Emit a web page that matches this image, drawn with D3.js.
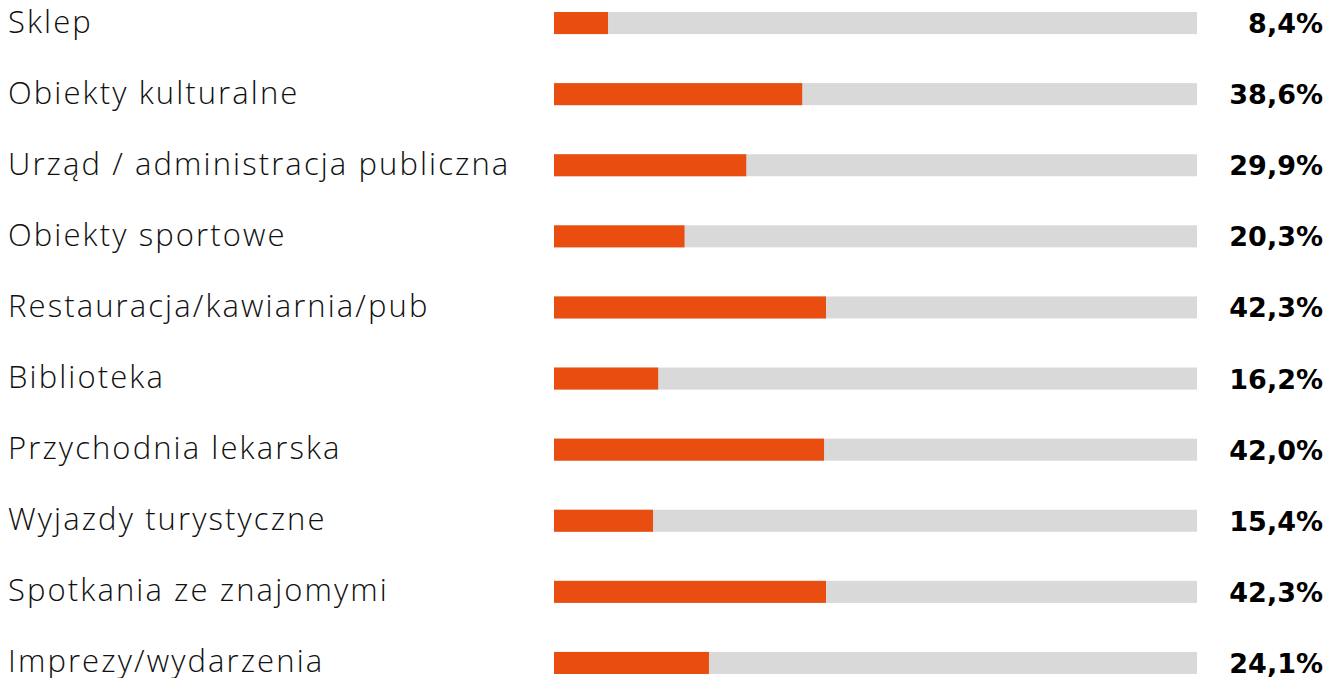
<!DOCTYPE html>
<html>
<head>
<meta charset="utf-8">
<script src="https://cdn.jsdelivr.net/npm/d3@7/dist/d3.min.js"></script>
<style>
  html, body { margin: 0; padding: 0; background: #ffffff; }
  svg { display: block; }
</style>
</head>
<body>
<svg id="chart" width="1341" height="678"></svg>
<script>
// Share of respondents per place / activity (percent)
const categories = [
  "Sklep",
  "Obiekty kulturalne",
  "Urząd / administracja publiczna",
  "Obiekty sportowe",
  "Restauracja/kawiarnia/pub",
  "Biblioteka",
  "Przychodnia lekarska",
  "Wyjazdy turystyczne",
  "Spotkania ze znajomymi",
  "Imprezy/wydarzenia"
];
const values = [8.4, 38.6, 29.9, 20.3, 42.3, 16.2, 42.0, 15.4, 42.3, 24.1];
const valueLabels = ["8,4%", "38,6%", "29,9%", "20,3%", "42,3%", "16,2%", "42,0%", "15,4%", "42,3%", "24,1%"];

const svg = d3.select("#chart");

const trackLeft = 554, trackRight = 1197;
const x = d3.scaleLinear().domain([0, 100]).range([trackLeft, trackRight]);

const y = d3.scaleBand()
  .domain(categories)
  .range([-12.5, 698.5])
  .paddingInner(0.69)
  .paddingOuter(0.345);

const bw = y.bandwidth();

const rows = svg.selectAll("g.row")
  .data(categories.map((c, i) => ({ c, v: values[i], t: valueLabels[i] })))
  .join("g")
  .attr("class", "row");

// grey track
rows.append("rect")
  .attr("x", x(0))
  .attr("y", d => y(d.c))
  .attr("width", x(100) - x(0))
  .attr("height", bw)
  .attr("fill", "#d9d9d9");

// value bar
rows.append("rect")
  .attr("x", x(0))
  .attr("y", d => y(d.c))
  .attr("width", d => x(d.v) - x(0))
  .attr("height", bw)
  .attr("fill", "#e94e10");

// category label
rows.append("text")
  .attr("x", 8)
  .attr("y", d => y(d.c) + bw / 2 + 9.5)
  .attr("font-family", "'Open Sans', sans-serif")
  .attr("font-size", 31)
  .attr("font-weight", 300)
  .attr("letter-spacing", 2.1)
  .attr("fill", "#111111")
  .text(d => d.c);

// value label
rows.append("text")
  .attr("x", 1323)
  .attr("y", d => y(d.c) + bw / 2 + 10)
  .attr("text-anchor", "end")
  .attr("font-family", "'DejaVu Sans', sans-serif")
  .attr("font-size", 27)
  .attr("font-weight", 700)
  .attr("fill", "#000000")
  .text(d => d.t);
</script>
</body>
</html>
